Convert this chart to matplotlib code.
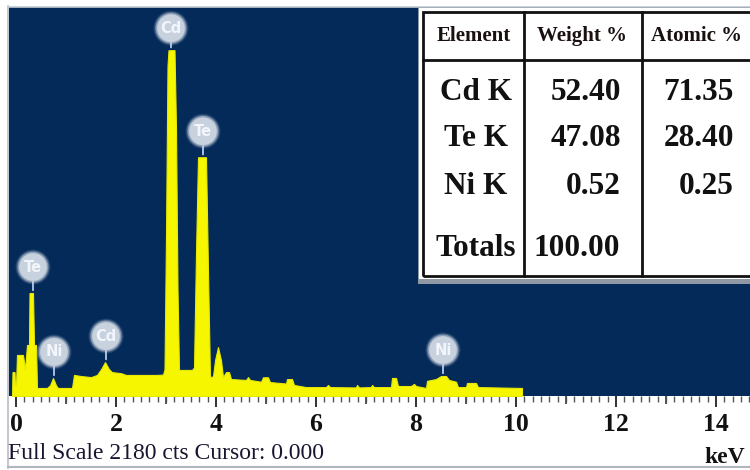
import matplotlib
matplotlib.use("Agg")
import matplotlib.pyplot as plt
from matplotlib.patches import Rectangle
from matplotlib.lines import Line2D
from matplotlib.ticker import MultipleLocator
import matplotlib.transforms as mtrans

# ---------------- data ----------------
energy_kev = [-0.08, -0.07, -0.03, -0.02, 0.00, 0.02, 0.14, 0.18, 0.22, 0.26, 0.27, 0.34, 0.36, 0.40,
              0.42, 0.62, 0.68, 0.74, 0.80, 0.84, 1.12, 1.16, 1.30, 1.50, 1.62, 1.70, 1.78, 1.86,
              1.92, 2.10, 2.20, 2.50, 2.80, 2.94, 2.97, 3.00, 3.03, 3.05, 3.17, 3.20, 3.23, 3.26,
              3.52, 3.56, 3.60, 3.64, 3.80, 3.84, 3.88, 3.94, 3.98, 4.04, 4.10, 4.14, 4.20, 4.26,
              4.30, 4.60, 4.64, 4.68, 4.90, 4.94, 5.04, 5.08, 5.40, 5.42, 5.52, 5.56, 5.80, 6.20,
              6.24, 6.28, 6.80, 6.82, 6.86, 7.10, 7.12, 7.16, 7.50, 7.52, 7.60, 7.64, 7.90, 7.96,
              8.00, 8.20, 8.22, 8.40, 8.50, 8.60, 8.66, 8.80, 8.84, 9.00, 9.02, 9.20, 9.24, 10.12, 10.12]
counts = [0, 134, 134, 60, 60, 230, 230, 150, 286, 286, 577, 577, 286, 286,
          45, 45, 60, 101, 60, 45, 45, 118, 112, 106, 118, 150, 190, 150,
          134, 128, 118, 118, 118, 120, 150, 900, 1850, 1938, 1938, 1500, 600, 146,
          146, 160, 800, 1338, 1338, 700, 106, 110, 200, 274, 200, 106, 134, 134,
          95, 90, 106, 90, 80, 105, 105, 78, 70, 95, 95, 62, 50, 50,
          62, 50, 48, 62, 48, 50, 62, 50, 50, 101, 101, 56, 56, 68,
          56, 45, 85, 95, 112, 112, 90, 80, 50, 50, 73, 73, 50, 45, 0]

peak_labels = ["Te", "Ni", "Cd", "Cd", "Te", "Ni"]
peak_energy = [0.34, 0.76, 1.80, 3.10, 3.74, 8.54]
peak_height = [577, 101, 190, 1938, 1338, 112]

table_header = ["Element", "Weight %", "Atomic %"]
table_elements = ["Cd K", "Te K", "Ni K", "Totals"]
table_weight = ["52.40", "47.08", "0.52", "100.00"]
table_atomic = ["71.35", "28.40", "0.25", ""]

x_tick_labels = ["0", "2", "4", "6", "8", "10", "12", "14"]
full_scale = 2180

# ---------------- figure ----------------
W, H = 750, 470
fig = plt.figure(figsize=(7.5, 4.7), dpi=100)
fig.patch.set_facecolor("white")

def fx(x):
    return x / W

def fy(y):
    return 1 - y / H

BLUE = "#042a5a"
YELLOW = "#f6f600"

ax = fig.add_axes([fx(9), fy(396), fx(741), 389 / H])
ax.set_facecolor(BLUE)
ax.set_xlim(-0.14, 14.68)
ax.set_ylim(0, full_scale)
for s in ax.spines.values():
    s.set_visible(False)

ax.fill_between(energy_kev, counts, 0, color=YELLOW, linewidth=0.8, edgecolor="#e8e800", zorder=2)

# element markers
for lab, e, h in zip(peak_labels, peak_energy, peak_height):
    dy = 22 if h > 1800 else 26
    tr_c = mtrans.offset_copy(ax.transData, fig=fig, x=0, y=dy, units="dots")
    ax.annotate("", xy=(e, h), xytext=(0, dy - 12), textcoords="offset pixels",
                arrowprops=dict(arrowstyle="-", color="#a8c0e0", lw=1.4), zorder=3)
    for s_, a_ in ((640, 0.12), (560, 0.25), (490, 0.5)):
        ax.scatter([e], [h], s=s_, color="#d0d8e4", alpha=a_, transform=tr_c, zorder=4,
                   linewidths=0, edgecolors="none")
    ax.scatter([e], [h], s=400, color="#c8d1de", alpha=1.0, transform=tr_c, zorder=5,
               linewidths=0, edgecolors="none")
    ax.text(e, h, lab, transform=tr_c, ha="center", va="center", fontsize=10.5,
            family="DejaVu Sans", fontweight="bold", color="#f2f5fa", zorder=6)

# ticks ruler
ax.xaxis.set_minor_locator(MultipleLocator(1 / 6))
ax.tick_params(axis="x", which="major", direction="out", length=8, width=1.3, color="#222222",
               labelsize=18.5, pad=4)
ax.tick_params(axis="x", which="minor", direction="out", length=4, width=1.0, color="#555555")
ax.set_xticks([0, 2, 4, 6, 8, 10, 12, 14])
ax.set_xticklabels(x_tick_labels, family="Liberation Serif", fontweight="bold", color="#111111")
ax.set_yticks([])
ax2 = ax.secondary_xaxis("bottom")
ax2.set_xticks([1, 3, 5, 7, 9, 11, 13])
ax2.set_xticklabels([])
ax2.tick_params(length=6, width=1.2, color="#333333")
for s in ax2.spines.values():
    s.set_visible(False)

# frame lines of the window
fig.add_artist(Line2D([fx(8), fx(8)], [fy(6), fy(468)], color="#b8bec6", lw=1.2))
fig.add_artist(Line2D([fx(8), fx(750)], [fy(6.5), fy(6.5)], color="#c4cad2", lw=1.2))
fig.add_artist(Line2D([fx(8), fx(750)], [fy(467), fy(467)], color="#b0b6be", lw=1.5))

# bottom texts
fig.text(fx(8), fy(459), "Full Scale %d cts Cursor: 0.000" % full_scale, family="Liberation Serif",
         fontsize=17, color="#1a1430", ha="left", va="baseline")
fig.text(fx(704), fy(463), "keV", family="Liberation Serif", fontweight="bold",
         fontsize=17, color="#111111", ha="left", va="baseline")

# ---------------- table ----------------
fig.add_artist(Rectangle((fx(418), fy(284)), fx(340), 276 / H, transform=fig.transFigure,
                         facecolor="#8f98a3", edgecolor="none", zorder=10))
fig.add_artist(Rectangle((fx(419), fy(279)), fx(340), 271 / H, transform=fig.transFigure,
                         facecolor="white", edgecolor="none", zorder=11))
fig.add_artist(Rectangle((fx(423), fy(276)), fx(340), 264 / H, transform=fig.transFigure,
                         facecolor="none", edgecolor="#111111", lw=2, zorder=12))
for xv in (524, 642):
    fig.add_artist(Line2D([fx(xv), fx(xv)], [fy(12), fy(276)], color="#111111", lw=2, zorder=12))
fig.add_artist(Line2D([fx(423), fx(752)], [fy(60), fy(60)], color="#111111", lw=2, zorder=12))

hdr_kw = dict(family="Liberation Serif", fontweight="bold", fontsize=15, color="#1b1010",
              va="center", zorder=13)
fig.text(fx(474), fy(36), table_header[0], ha="center", **hdr_kw)
fig.text(fx(582), fy(36), table_header[1], ha="center", **hdr_kw)
fig.text(fx(651), fy(36), table_header[2], ha="left", **hdr_kw)

row_y = [92, 139, 186, 249]
row_kw = dict(family="Liberation Serif", fontweight="bold", fontsize=22.5, color="#111111",
              va="center", zorder=13)
for i, yv in enumerate(row_y):
    fig.text(fx(476), fy(yv), table_elements[i], ha="center", **row_kw)
    if i < 3:
        fig.text(fx(621), fy(yv), table_weight[i], ha="right", **row_kw)
    else:
        fig.text(fx(577), fy(yv), table_weight[i], ha="center", **row_kw)
    if table_atomic[i]:
        fig.text(fx(734), fy(yv), table_atomic[i], ha="right", **row_kw)

fig.savefig("out.png", dpi=100, facecolor="white")
